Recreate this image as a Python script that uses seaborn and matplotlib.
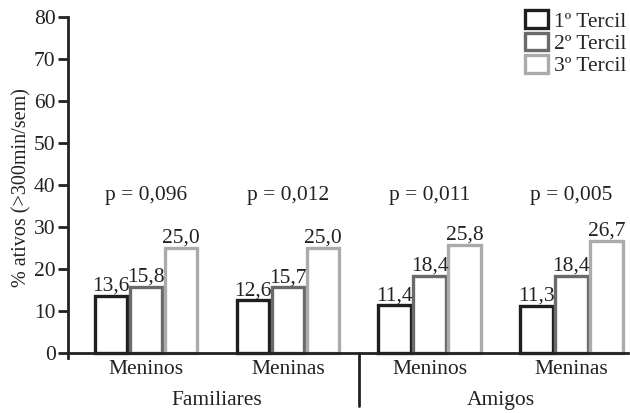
import matplotlib
matplotlib.use("Agg")
import matplotlib.pyplot as plt
import seaborn as sns
import pandas as pd
import matplotlib.transforms as mtransforms
from matplotlib.patches import Patch

# ---- data ----
grupos = ["Familiares", "Familiares", "Amigos", "Amigos"]
sexos = ["Meninos", "Meninas", "Meninos", "Meninas"]
terceis = ["1º Tercil", "2º Tercil", "3º Tercil"]
tercil1 = [13.6, 12.6, 11.4, 11.3]
tercil2 = [15.8, 15.7, 18.4, 18.4]
tercil3 = [25.0, 25.0, 25.8, 26.7]
p_valores = ["p = 0,096", "p = 0,012", "p = 0,011", "p = 0,005"]
grupo_labels = ["Familiares", "Amigos"]

cats = [f"{g}-{s}" for g, s in zip(grupos, sexos)]
rows = []
for t, vals in zip(terceis, [tercil1, tercil2, tercil3]):
    for c, v in zip(cats, vals):
        rows.append({"cat": c, "tercil": t, "valor": v})
df = pd.DataFrame(rows)

sns.set_style("ticks")
plt.rcParams["font.family"] = ["Liberation Serif", "DejaVu Serif"]

FS = 15.5
TC = "#222222"
colors = ["#1e1e1e", "#6a6a6a", "#ababab"]

fig = plt.figure(figsize=(6.3, 4.13), dpi=100)
ax = fig.add_axes([0.108, 0.133, 0.889, 0.826])

sns.barplot(data=df, x="cat", y="valor", hue="tercil", order=cats,
            hue_order=terceis, palette=colors, fill=False, linewidth=2.4,
            width=0.74, gap=0.07, ax=ax, legend=False, errorbar=None)

for cont in ax.containers:
    labs = [f"{b.get_height():.1f}".replace(".", ",") for b in cont]
    ax.bar_label(cont, labels=labs, padding=0, fontsize=FS, color=TC)

for i, p in enumerate(p_valores):
    ax.text(i, 37.6, p, ha="center", va="center", fontsize=FS, color=TC)

ax.set_ylim(-1.2, 80)
ax.set_xlim(-0.55, 3.40)
ax.set_yticks(range(0, 81, 10))
ax.set_xticks(range(4))
ax.set_xticklabels(sexos)
ax.tick_params(axis="x", length=0, labelsize=FS, pad=5, colors=TC)
ax.tick_params(axis="y", length=7, width=2, labelsize=FS, pad=2, colors=TC)
ax.set_xlabel("")
ax.set_ylabel("% ativos (>300min/sem)", fontsize=14.5, color=TC, labelpad=2)

for s in ["top", "right"]:
    ax.spines[s].set_visible(False)
for s in ["left", "bottom"]:
    ax.spines[s].set_linewidth(2)
    ax.spines[s].set_color(TC)
ax.spines["bottom"].set_position(("data", 0))

trans = mtransforms.blended_transform_factory(ax.transData, ax.transAxes)
ax.plot([1.5, 1.5], [0.015, -0.14], transform=trans, color=TC,
        lw=2, clip_on=False)
ax.text(0.5, -0.125, grupo_labels[0], transform=trans, ha="center", va="center",
        fontsize=FS, color=TC)
ax.text(2.5, -0.125, grupo_labels[1], transform=trans, ha="center", va="center",
        fontsize=FS, color=TC)

handles = [Patch(facecolor="white", edgecolor=c, linewidth=2.4, label=t)
           for c, t in zip(colors, terceis)]
ax.legend(handles=handles, loc="upper right", bbox_to_anchor=(1.012, 1.045),
          frameon=False, fontsize=FS, handlelength=1.1, handleheight=0.9,
          handletextpad=0.25, labelspacing=0.05, borderaxespad=0)

fig.savefig("out.png", dpi=100)
